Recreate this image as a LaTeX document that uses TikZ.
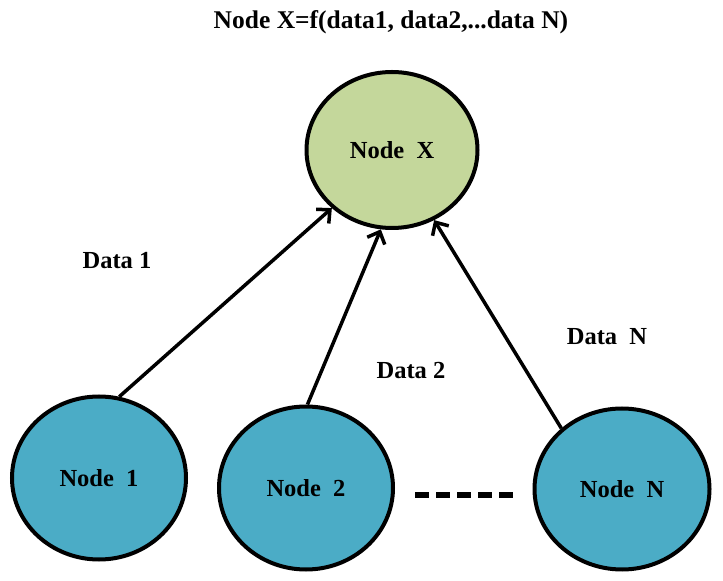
\documentclass[tikz,border=0pt]{standalone}
\usepackage{fontspec}
\setmainfont{Liberation Serif}
\usetikzlibrary{shapes.geometric,arrows.meta}
\definecolor{nodegreen}{RGB}{196,215,155}
\definecolor{nodeblue}{RGB}{75,172,198}
\begin{document}
\begin{tikzpicture}[x=1pt, y=1pt,
  every node/.style={font=\fontsize{24.5}{28}\selectfont\bfseries},
  datanode/.style={ellipse, draw, line width=4pt, fill=nodeblue, minimum width=174, minimum height=163},
  link/.style={line width=3.5pt, -{Straight Barb[length=10pt, width=19pt, line width=3.5pt]}}]
  \useasboundingbox (0,0) rectangle (723,581);
        \node[font=\fontsize{25.5}{30}\selectfont\bfseries] at (391,559) (title) {Node X=f(data1, data2,...data N)};
        \node[ellipse, draw, line width=4pt, fill=nodegreen, minimum width=171, minimum height=156] (x) at (392,431) {Node\ \ X};
        \node[datanode] (n1) at (99,103) {Node\ \ 1};
        \node[datanode] (n2) at (306,93) {Node\ \ 2};
        \node[datanode, minimum width=175, minimum height=161] (nN) at (622,92) {Node\ \ N};
        \draw[link] (n1.76) -- (x.224);
        \draw[link] (n2.89) -- (x.262);
        \draw[link] (nN.135) -- (x.301);
        \node at (117,320) (d1) {Data 1};
        \node at (411,210) (d2) {Data 2};
        \node at (607,244) (dN) {Data\ \ N};
        \coordinate (dotsA) at (415,86);
        \coordinate (dotsB) at (513,86);
        \draw[line width=6pt, dash pattern=on 14pt off 7pt] (dotsA) -- (dotsB);
\end{tikzpicture}
\end{document}
